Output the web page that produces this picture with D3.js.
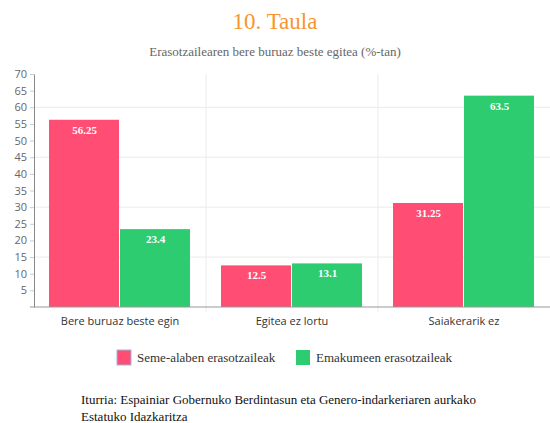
<!DOCTYPE html>
<html>
<head>
<meta charset="utf-8">
<script src="https://cdn.jsdelivr.net/npm/d3@7"></script>
<style>
  body { margin: 0; background: #fff; }
  .serif { font-family: "Liberation Serif", "Times New Roman", "DejaVu Serif", serif; }
  .sans { font-family: "Open Sans", "Noto Sans", sans-serif; }
</style>
</head>
<body>
<div id="my_dataviz"></div>
<script>
var categories = ["Bere buruaz beste egin", "Egitea ez lortu", "Saiakerarik ez"];
var seriesNames = ["Seme-alaben erasotzaileak", "Emakumeen erasotzaileak"];
var semeAlaben = [56.25, 12.5, 31.25];
var emakumeen = [23.4, 13.1, 63.5];
var yTicks = [5, 10, 15, 20, 25, 30, 35, 40, 45, 50, 55, 60, 65, 70];
var gridTicks = [15, 30, 45, 60];
var colors = ["#ff4d73", "#2ecc71"];

var w = 550, h = 423;
var margin = {top: 74, right: 0, bottom: 116, left: 34},
    width = w - margin.left - margin.right,
    height = h - margin.top - margin.bottom;

var svg = d3.select("#my_dataviz").append("svg")
    .attr("width", w)
    .attr("height", h);

// titles
svg.append("text")
    .attr("class", "serif")
    .attr("x", 275).attr("y", 29)
    .attr("text-anchor", "middle")
    .style("font-size", "23px")
    .attr("fill", "#f7962c")
    .text("10. Taula");

svg.append("text")
    .attr("class", "serif")
    .attr("x", 275).attr("y", 56)
    .attr("text-anchor", "middle")
    .style("font-size", "13px")
    .attr("fill", "#666")
    .text("Erasotzailearen bere buruaz beste egitea (%-tan)");

var g = svg.append("g")
    .attr("transform", "translate(" + margin.left + "," + margin.top + ")");

var x = d3.scaleBand().domain(categories).range([0, width]);
var x1 = d3.scaleBand().domain([0, 1]).range([15, x.bandwidth() - 15]);
var y = d3.scaleLinear().domain([0, 70]).range([height, 0]);

// grid
g.selectAll(".hgrid").data(gridTicks).enter().append("line")
    .attr("x1", 0).attr("x2", width)
    .attr("y1", function(d) { return y(d); })
    .attr("y2", function(d) { return y(d); })
    .attr("stroke", "#ebebeb");

g.selectAll(".vgrid").data(categories.slice(1)).enter().append("line")
    .attr("x1", function(d) { return x(d); })
    .attr("x2", function(d) { return x(d); })
    .attr("y1", 0).attr("y2", height + 5)
    .attr("stroke", "#ebebeb");

// bars
var data = [];
categories.forEach(function(c, i) {
    data.push({cat: c, s: 0, v: semeAlaben[i]});
    data.push({cat: c, s: 1, v: emakumeen[i]});
});

g.selectAll(".bar").data(data).enter().append("rect")
    .attr("x", function(d) { return x(d.cat) + x1(d.s); })
    .attr("width", x1.bandwidth() - 1)
    .attr("y", function(d) { return y(d.v); })
    .attr("height", function(d) { return height - y(d.v); })
    .attr("fill", function(d) { return colors[d.s]; });

g.selectAll(".lbl").data(data).enter().append("text")
    .attr("class", "serif")
    .attr("x", function(d) { return x(d.cat) + x1(d.s) + x1.bandwidth() / 2; })
    .attr("y", function(d) { return y(d.v) + 14; })
    .attr("text-anchor", "middle")
    .style("font-size", "11px")
    .style("font-weight", "bold")
    .attr("fill", "#fff")
    .text(function(d) { return d.v; });

// y axis
var yAxis = g.append("g")
    .call(d3.axisLeft(y).tickValues(yTicks).tickSize(4).tickSizeOuter(0));
yAxis.select(".domain").attr("stroke", "#888");
yAxis.selectAll(".tick line").attr("stroke", "#ccc");
yAxis.selectAll("text")
    .attr("class", "sans")
    .attr("fill", "#666")
    .style("font-size", "11px");

// x axis
var xAxis = g.append("g")
    .attr("transform", "translate(0," + height + ")")
    .call(d3.axisBottom(x).tickSize(0).tickSizeOuter(0).tickPadding(10));
xAxis.select(".domain").attr("stroke", "#999").attr("d", "M-4,0H" + width);
xAxis.selectAll("text")
    .attr("class", "sans")
    .attr("fill", "#333")
    .style("font-size", "11px");

// legend
var legendX = [117, 296];
var legend = svg.selectAll(".legend").data(seriesNames).enter().append("g")
    .attr("transform", function(d, i) { return "translate(" + legendX[i] + ",350)"; });
legend.append("rect")
    .attr("width", 14).attr("height", 15)
    .attr("fill", function(d, i) { return colors[i]; })
    .attr("stroke", function(d, i) { return i == 0 ? "#9ab8e0" : "none"; });
legend.append("text")
    .attr("class", "serif")
    .attr("x", 20).attr("y", 12)
    .style("font-size", "13px")
    .attr("fill", "#333")
    .text(function(d) { return d; });

// source
var src = svg.append("text")
    .attr("class", "serif")
    .style("font-size", "13px")
    .attr("fill", "#111");
src.append("tspan").attr("x", 81).attr("y", 404)
    .text("Iturria: Espainiar Gobernuko Berdintasun eta Genero-indarkeriaren aurkako");
src.append("tspan").attr("x", 81).attr("y", 421)
    .text("Estatuko Idazkaritza");
</script>
</body>
</html>
